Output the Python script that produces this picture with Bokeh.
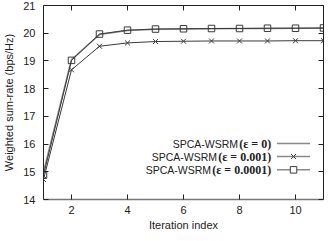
from bokeh.plotting import figure
from bokeh.models import LinearAxis, ColumnDataSource, FixedTicker, CustomJSTickFormatter
from bokeh.core.properties import value
from bokeh.embed import file_html
from bokeh.resources import INLINE

# ---- data ----
iterations = [1, 2, 3, 4, 5, 6, 7, 8, 9, 10, 11]
rate_eps_0 = [15.00, 19.05, 19.95, 20.10, 20.14, 20.15, 20.16, 20.17, 20.17, 20.18, 20.18]
rate_eps_1e3 = [14.72, 18.68, 19.53, 19.65, 19.70, 19.71, 19.72, 19.72, 19.72, 19.73, 19.73]
rate_eps_1e4 = [14.88, 19.02, 19.97, 20.11, 20.15, 20.16, 20.17, 20.17, 20.18, 20.18, 20.19]

method_names = ["SPCA-WSRM", "SPCA-WSRM", "SPCA-WSRM"]
eps_labels = ["(ε = 0)", "(ε = 0.001)", "(ε = 0.0001)"]
x_ticks = [2, 4, 6, 8, 10]
y_ticks = [14, 15, 16, 17, 18, 19, 20, 21]

SANS = "Liberation Sans"
SERIF = "Liberation Serif"
LINE_DARK = "#3a3a3a"
LINE_GRAY = "#8a8a8a"

p = figure(width=326, height=233, x_range=(1, 11), y_range=(14, 21),
           output_backend="svg", toolbar_location=None,
           min_border_left=38, min_border_right=3, min_border_top=5, min_border_bottom=33)
p.outline_line_color = None
p.grid.visible = False
p.background_fill_color = "white"
p.border_fill_color = "white"

def style_axis(ax, labels=True):
    ax.major_tick_in = 5
    ax.major_tick_out = 0
    ax.minor_tick_line_color = None
    ax.axis_line_color = "#222222"
    ax.major_tick_line_color = "#222222"
    ax.major_label_text_font = SANS
    ax.major_label_text_font_size = "11px"
    ax.major_label_text_color = "#222222"
    ax.axis_label_text_font = SANS
    ax.axis_label_text_font_size = "11px"
    ax.axis_label_text_font_style = "normal"
    ax.axis_label_text_color = "#222222"
    if not labels:
        ax.formatter = CustomJSTickFormatter(code="return ''")
        ax.major_label_standoff = 0

xa = p.xaxis[0]
ya = p.yaxis[0]
xa.ticker = FixedTicker(ticks=x_ticks)
ya.ticker = FixedTicker(ticks=y_ticks)
style_axis(xa)
style_axis(ya)
xa.axis_line_color = "#777777"
xa.axis_line_width = 1.5
xa.major_label_standoff = 6
xa.axis_label = "Iteration index"
xa.axis_label_standoff = 2
ya.axis_label = "Weighted sum-rate (bps/Hz)"
ya.major_label_standoff = 8
ya.axis_label_standoff = 5

top = LinearAxis(ticker=FixedTicker(ticks=x_ticks))
style_axis(top, labels=False)
p.add_layout(top, "above")
right = LinearAxis(ticker=FixedTicker(ticks=y_ticks))
style_axis(right, labels=False)
p.add_layout(right, "right")

# ---- series ----
p.line(iterations, rate_eps_0, line_color=LINE_GRAY, line_width=1.5)
p.line(iterations, rate_eps_1e3, line_color=LINE_DARK, line_width=1)
p.scatter(iterations, rate_eps_1e3, marker="x", size=7, line_color=LINE_DARK, line_width=1)
p.line(iterations, rate_eps_1e4, line_color=LINE_DARK, line_width=1)
p.scatter(iterations, rate_eps_1e4, marker="square", size=6.5, fill_color=None,
          line_color=LINE_DARK, line_width=1)

# ---- legend (text on left, sample on right) ----
leg_y = [16.02, 15.55, 15.07]
text_end_x = 9.13
sample_x0, sample_x1, sample_xm = 9.34, 10.52, 9.93
font_px = 12
# approximate advance widths (em) for Liberation Serif Bold
adv = {"(": 0.333, ")": 0.333, "=": 0.570, " ": 0.25, "0": 0.5, "1": 0.5, ".": 0.25, "ε": 0.44}
eps_width = [sum(adv.get(c, 0.5) for c in s) * font_px for s in eps_labels]

src = ColumnDataSource(dict(y=leg_y, name=method_names, eps=eps_labels,
                            x=[text_end_x] * 3, off=[-w - 1 for w in eps_width]))
p.text(x="x", y="y", text="eps", source=src, text_font=value(SERIF),
       text_font_style="bold", text_font_size=f"{font_px}px", text_align="right",
       text_baseline="middle", text_color="#222222")
p.text(x="x", y="y", text="name", source=src, x_offset="off", text_font=value(SANS),
       text_font_size="10.5px", text_align="right", text_baseline="middle",
       text_color="#222222")
for yy in leg_y:
    p.line([sample_x0, sample_x1], [yy, yy], line_color=LINE_GRAY, line_width=1.5)
p.scatter([sample_xm], [leg_y[1]], marker="x", size=7, line_color=LINE_DARK)
p.scatter([sample_xm], [leg_y[2]], marker="square", size=6.5, fill_color="white",
          line_color=LINE_DARK)

open("out.html", "w").write(file_html(p, INLINE))
